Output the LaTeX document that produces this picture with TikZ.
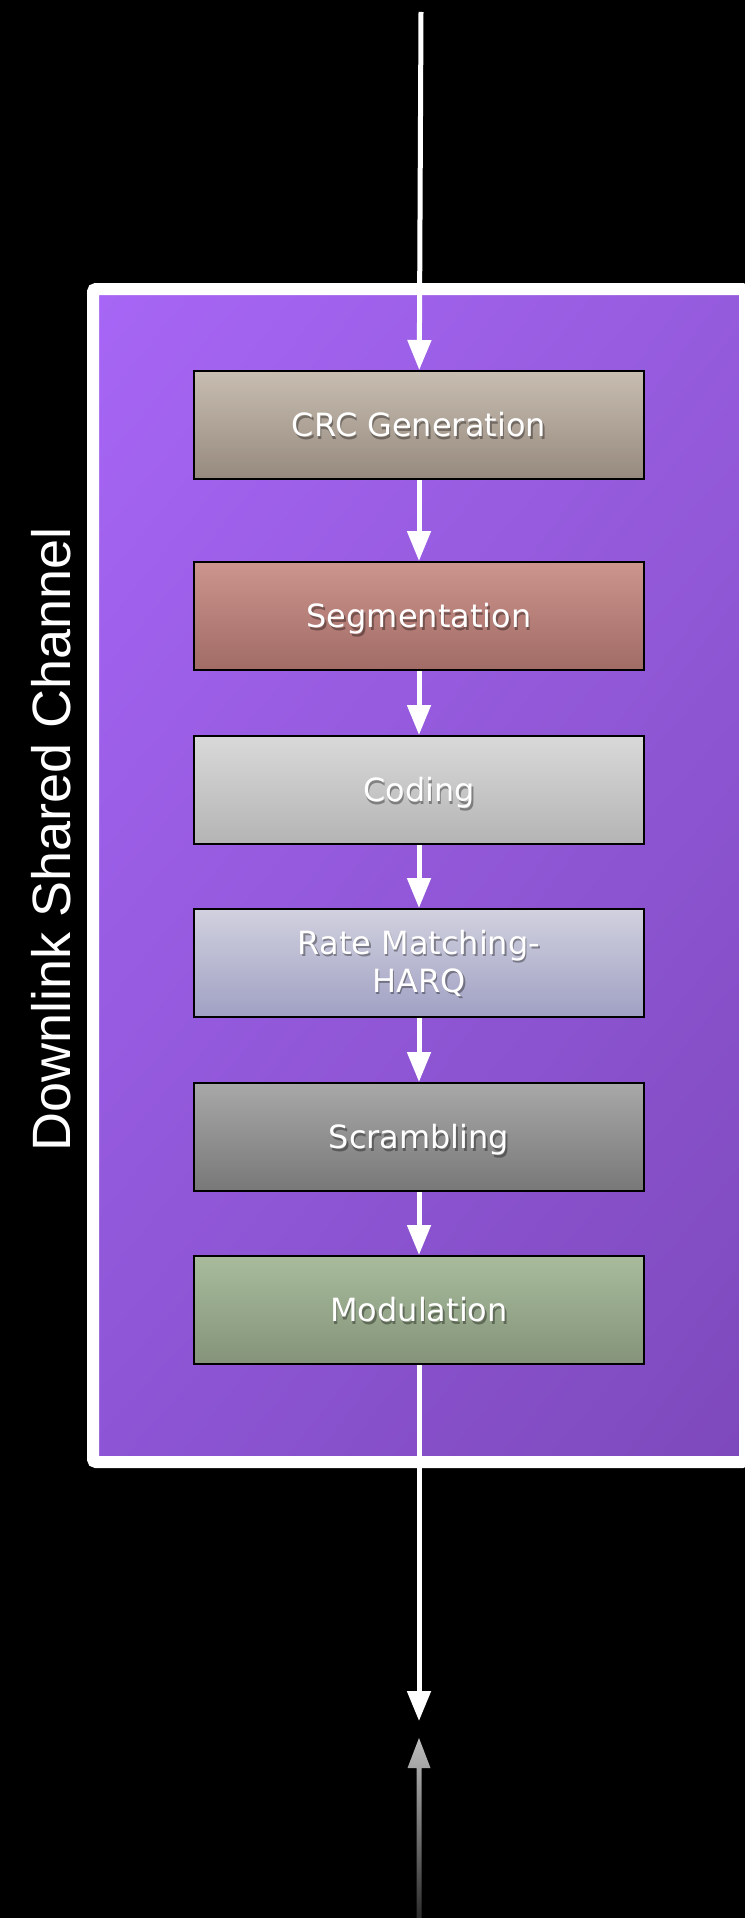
\documentclass[tikz,border=0pt]{standalone}
\usepackage{fontspec}
\setmainfont{DejaVu Sans}
\newfontfamily\sidefont{Liberation Sans}
\usetikzlibrary{arrows.meta, shadings}

% frame colours
\definecolor{frameUL}{HTML}{A766F5}
\definecolor{frameUR}{HTML}{955BDD}
\definecolor{frameLL}{HTML}{8D55D5}
\definecolor{frameLR}{HTML}{7E49BC}
% stage colours
\definecolor{crcTop}{HTML}{C8BDB1}
\definecolor{crcBot}{HTML}{968A7F}
\definecolor{segTop}{HTML}{CC958D}
\definecolor{segBot}{HTML}{A16B66}
\definecolor{codTop}{HTML}{D9D9D9}
\definecolor{codBot}{HTML}{B4B4B4}
\definecolor{rateTop}{HTML}{D1D1DF}
\definecolor{rateBot}{HTML}{A0A0C4}
\definecolor{scrTop}{HTML}{A8A8A8}
\definecolor{scrBot}{HTML}{787878}
\definecolor{modTop}{HTML}{A8BC9C}
\definecolor{modBot}{HTML}{849379}
% return arrow
\definecolor{backTop}{HTML}{BDBDBD}
\definecolor{backBot}{HTML}{2C2C2C}

\begin{document}
\begin{tikzpicture}[x=1pt, y=-1pt,
	flow/.style={white, line width=5pt, -{Triangle[length=30pt, width=23pt]}},
	stagebox/.style={draw=black, line width=2pt, minimum width=450pt, minimum height=108pt, inner sep=0pt},
	stagetext/.style={text=white, font=\fontsize{32}{38}\selectfont, align=center, inner sep=0pt},
	oneline/.style={text height=23.3pt, text depth=0pt}
]
	% background
	\fill[black] (0, 0) rectangle (745, 1918);
	\useasboundingbox (0, 0) rectangle (745, 1918);

	% frame
	\shade[upper left=frameUL, upper right=frameUR, lower left=frameLL, lower right=frameLR] (99, 295) rectangle (739, 1456);
	\draw[white, line width=12pt, rounded corners=3pt] (93, 289) rectangle (745, 1462);

	% side label
	\node[rotate=90, text=white, inner sep=0pt, font=\sidefont\fontsize{54}{60}\selectfont] (side) at (51, 839) {Downlink Shared Channel};

	% \drawstage#name#y#label#topcolor#bottomcolor#textstyle
	\def\drawstage#1#2#3#4#5#6{
		\node[stagebox, top color=#4, bottom color=#5] (#1) at (419, #2) {};
		\node[stagetext, #6, text=black, opacity=.35] (#1-shadow) at ([xshift=1.5pt, yshift=-2.5pt]#1.center) {#3};
		\node[stagetext, #6] (#1-text) at (#1.center) {#3};
	}

	% stages
	\drawstage{crc}{425}{CRC Generation}{crcTop}{crcBot}{oneline}
	\drawstage{seg}{616}{Segmentation}{segTop}{segBot}{oneline}
	\drawstage{cod}{790}{Coding}{codTop}{codBot}{oneline}
	\drawstage{rate}{963}{Rate Matching-\\HARQ}{rateTop}{rateBot}{}
	\drawstage{scr}{1137}{Scrambling}{scrTop}{scrBot}{oneline}
	\drawstage{mod}{1310}{Modulation}{modTop}{modBot}{oneline}

	% flow
	\coordinate (in) at (421, 12);
	\coordinate (out) at (419, 1721);
	\draw[flow] (in) -- (crc);
	\foreach \a/\b in {crc/seg, seg/cod, cod/rate, rate/scr, scr/mod} {
		\draw[flow] (\a) -- (\b);
	}
	\draw[flow] (mod) -- (out);

	% return arrow
	\coordinate (backtip) at (419, 1738);
	\shade[top color=backTop, bottom color=backBot] (416.5, 1918) -- (416.5, 1768) -- (407.5, 1768) -- (backtip) -- (430.5, 1768) -- (421.5, 1768) -- (421.5, 1918) -- cycle;
\end{tikzpicture}
\end{document}
